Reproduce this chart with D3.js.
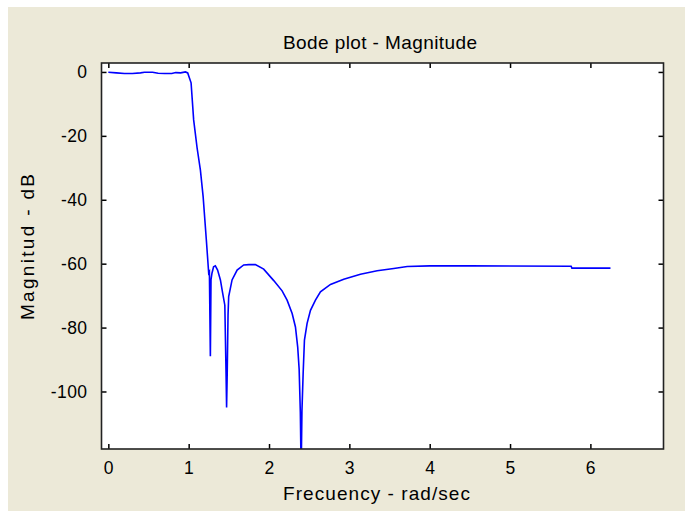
<!DOCTYPE html>
<html>
<head>
<meta charset="utf-8">
<script src="https://cdn.jsdelivr.net/npm/d3@7"></script>
<style>
  html, body { margin: 0; padding: 0; background: #fff; }
  svg { display: block; }
  text { font-family: "Liberation Sans", Arial, sans-serif; fill: #000; }
</style>
</head>
<body>
<svg id="chart" width="685" height="511"></svg>
<script>
// frequency (rad/sec) and magnitude (dB)
const freq = [0, 0.1, 0.2, 0.3, 0.4, 0.45, 0.55, 0.62, 0.7, 0.79, 0.84, 0.9, 0.96,
  0.988, 1.03, 1.062, 1.105, 1.146, 1.18, 1.22, 1.249, 1.258, 1.27, 1.278, 1.29, 1.31,
  1.332, 1.36, 1.395, 1.423, 1.45, 1.465, 1.472, 1.48, 1.49, 1.498, 1.54, 1.603, 1.685,
  1.75, 1.83, 1.934, 2.059, 2.163, 2.225, 2.288, 2.329, 2.357, 2.375, 2.39, 2.40, 2.41,
  2.425, 2.441, 2.474, 2.516, 2.578, 2.64, 2.765, 2.93, 3.138, 3.346, 3.553, 3.72, 4.0,
  4.5, 5.76, 5.77, 6.25];
const magDb = [-0.1, -0.3, -0.5, -0.5, -0.3, -0.1, -0.1, -0.4, -0.5, -0.5, -0.2, -0.3, 0,
  -0.3, -3.4, -15, -23.8, -30.7, -39, -52.6, -62.9, -62.5, -89, -65, -63, -61,
  -60.7, -62, -65.1, -69.2, -73, -94, -105, -94, -76, -70.3, -65.1, -62, -60.4,
  -60.3, -60.3, -61.7, -65.3, -68.5, -71.4, -75.6, -79.8, -86.1, -93, -106.7, -125, -106,
  -94.2, -83.9, -78.7, -74.6, -71.4, -68.8, -66.5, -64.9, -63.3, -62.2, -61.5, -60.9, -60.7,
  -60.7, -60.8, -61.4, -61.4];

const xTicks = [0, 1, 2, 3, 4, 5, 6];
const yTicks = [0, -20, -40, -60, -80, -100];

const title = 'Bode plot - Magnitude';
const xTitle = 'Frecuency - rad/sec';
const yTitle = 'Magnitud - dB';

const data = freq.map((f, i) => ({f: f, m: magDb[i]}));

const svg = d3.select('#chart');

// grey figure background (white strip on top and left)
svg.append('rect')
   .attr('x', 8).attr('y', 7)
   .attr('width', 685 - 8).attr('height', 511 - 7)
   .attr('fill', '#ece9d8');

const pL = 101.5, pR = 663.5, pT = 63, pB = 449;

const x = d3.scaleLinear().domain([-0.085, 6.91]).range([pL, pR]);
const y = d3.scaleLinear().domain([-118, 2.8]).range([pB, pT]);

// plot area
svg.append('rect')
   .attr('x', pL).attr('y', pT)
   .attr('width', pR - pL).attr('height', pB - pT)
   .attr('fill', '#fff');

svg.append('clipPath').attr('id', 'clip')
   .append('rect')
   .attr('x', pL).attr('y', pT)
   .attr('width', pR - pL).attr('height', pB - pT);

const line = d3.line()
               .x(d => x(d.f))
               .y(d => y(d.m));

svg.append('path')
   .datum(data)
   .attr('clip-path', 'url(#clip)')
   .attr('fill', 'none')
   .attr('stroke', '#0000ff')
   .attr('stroke-width', 1.6)
   .attr('d', line);

// axes with inward ticks on all sides, plain hyphen for negatives
const fontSize = 17.5;
const fmt = d => String(d);
const axB = svg.append('g').attr('transform', `translate(0,${pB})`)
   .call(d3.axisBottom(x).tickValues(xTicks).tickSize(-5).tickPadding(13).tickFormat(fmt));
const axT = svg.append('g').attr('transform', `translate(0,${pT})`)
   .call(d3.axisTop(x).tickValues(xTicks).tickSize(-5).tickFormat(''));
const axL = svg.append('g').attr('transform', `translate(${pL},0)`)
   .call(d3.axisLeft(y).tickValues(yTicks).tickSize(-5).tickPadding(14).tickFormat(fmt));
const axR = svg.append('g').attr('transform', `translate(${pR},0)`)
   .call(d3.axisRight(y).tickValues(yTicks).tickSize(-5).tickFormat(''));

[axB, axT, axL, axR].forEach(g => {
  g.select('.domain').remove();
  g.selectAll('.tick line').attr('stroke', '#000').attr('stroke-width', 1.5);
  g.selectAll('.tick text')
   .attr('font-family', '"Liberation Sans", Arial, sans-serif')
   .attr('font-size', fontSize)
   .attr('letter-spacing', 0.4)
   .attr('fill', '#000');
});

// box
svg.append('rect')
   .attr('x', pL).attr('y', pT)
   .attr('width', pR - pL).attr('height', pB - pT)
   .attr('fill', 'none')
   .attr('stroke', '#222')
   .attr('stroke-width', 1.6);

// titles: the original font is a bit wider than Arial
svg.append('text')
   .attr('x', 283).attr('y', 49)
   .attr('font-size', 19)
   .attr('textLength', 194)
   .attr('lengthAdjust', 'spacing')
   .text(title);

svg.append('text')
   .attr('x', 283).attr('y', 500)
   .attr('font-size', 19)
   .attr('textLength', 187)
   .attr('lengthAdjust', 'spacing')
   .text(xTitle);

svg.append('text')
   .attr('transform', `translate(34,320) rotate(-90)`)
   .attr('font-size', 19)
   .attr('textLength', 146)
   .attr('lengthAdjust', 'spacing')
   .text(yTitle);
</script>
</body>
</html>
